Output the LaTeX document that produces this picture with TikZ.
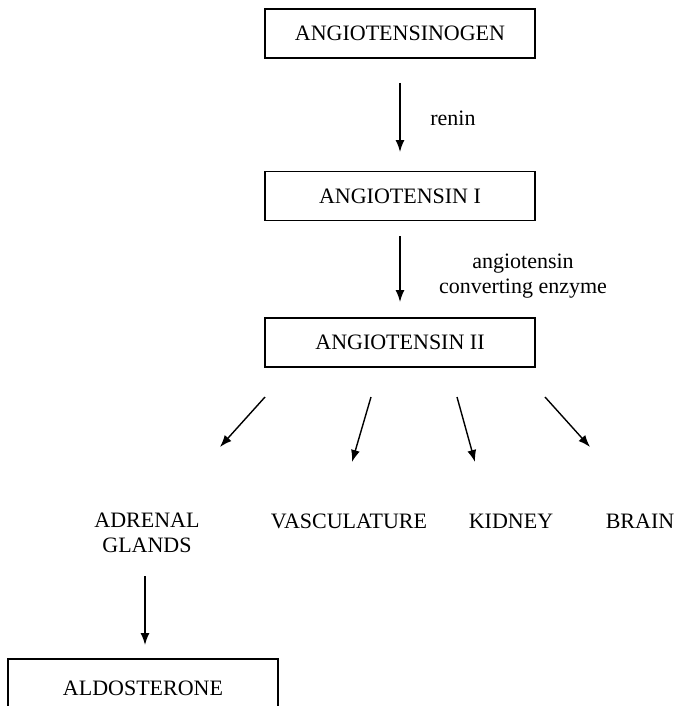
\documentclass[tikz,border=0pt]{standalone}
\usepackage{fontspec}
\setmainfont{Liberation Serif}
\usetikzlibrary{arrows.meta}
\begin{document}
\begin{tikzpicture}[x=1pt,y=-1pt,
  every node/.style={font=\fontsize{22}{25}\selectfont,inner sep=0pt},
  box/.style={draw,line width=1.4pt,minimum width=270pt,minimum height=49pt},
  lbl/.style={align=center},
  arr/.style={-{Latex[length=12pt,width=9pt]},line width=1.4pt}]
  \useasboundingbox (0,0) rectangle (675,706);
  \clip (0,0) rectangle (675,706);
  % main chain
  \node[box] (ogen) at (400,33.5) {ANGIOTENSINOGEN};
  \node[box] (ang1) at (400,196) {ANGIOTENSIN I};
  \node[box] (ang2) at (400,342.5) {ANGIOTENSIN II};
  \draw[arr] (400,83) coordinate (r1) -- (400,152) coordinate (r2);
  \node[lbl] (renin) at (453,118) {renin};
  \draw[arr] (400,236) coordinate (c1) -- (400,302) coordinate (c2);
  \node[lbl] (ace) at (523,276) {angiotensin\\converting enzyme};
  % targets
  \node[lbl] (adr) at (147,533) {ADRENAL\\GLANDS};
  \node (vas) at (349,521) {VASCULATURE};
  \node (kid) at (511,521) {KIDNEY};
  \node (bra) at (640,521) {BRAIN};
  \coordinate (f1) at (265,397); \coordinate (t1) at (220,447);
  \coordinate (f2) at (371,397); \coordinate (t2) at (352,462);
  \coordinate (f3) at (457,397); \coordinate (t3) at (475,462);
  \coordinate (f4) at (545,397); \coordinate (t4) at (590,447);
  \foreach \i in {1,...,4}
    \draw[arr] (f\i) -- (t\i);
  % aldosterone
  \draw[arr] (145,576) coordinate (a1) -- (145,645) coordinate (a2);
  \node[box] (ald) at (143,688) [minimum height=58pt] {ALDOSTERONE};
\end{tikzpicture}
\end{document}
